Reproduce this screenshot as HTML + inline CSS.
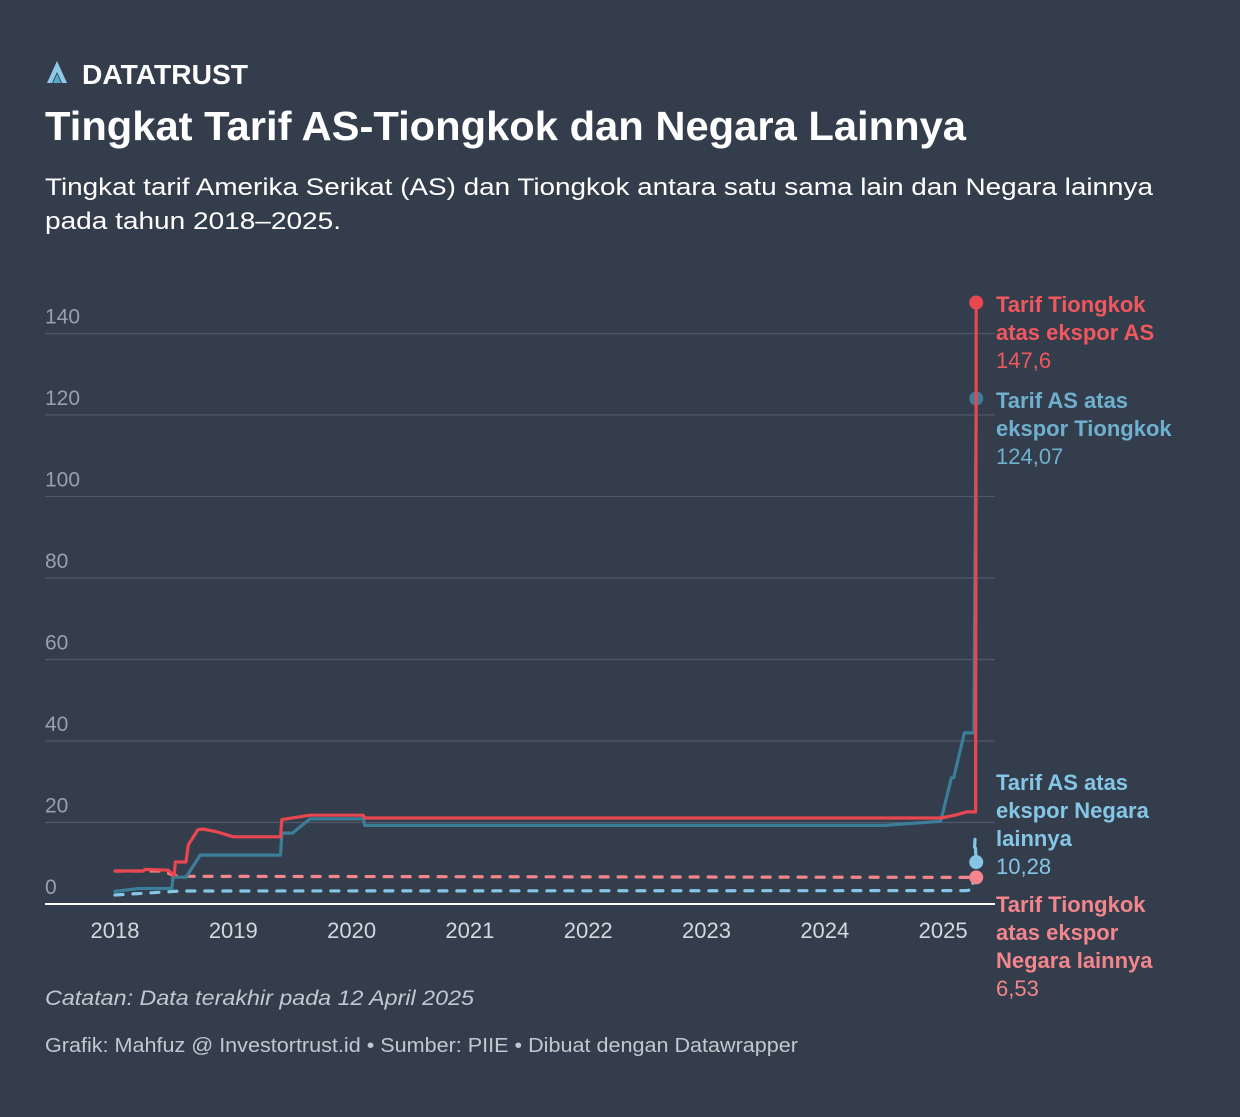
<!DOCTYPE html>
<html><head><meta charset="utf-8">
<style>
body{margin:0;background:#343d4c;width:1240px;height:1112px;overflow:hidden;font-family:"Liberation Sans",sans-serif;}
svg text{font-family:"Liberation Sans",sans-serif;}
</style></head>
<body>
<svg id="chart" width="1240" height="1112">
<g>
<path d="M47 83 L57 61 L67 83 L62 83 L57 72 L52 83 Z" fill="#8ec9e8"/>
<path d="M53 83 L57 74 L61 83 Z" fill="#5aa7cc"/>
<text x="82" y="84" font-size="28" font-weight="bold" fill="#fff" textLength="166" lengthAdjust="spacingAndGlyphs">DATATRUST</text>
</g>
<text x="45" y="140" font-size="41" font-weight="bold" fill="#fff" textLength="921" lengthAdjust="spacingAndGlyphs">Tingkat Tarif AS-Tiongkok dan Negara Lainnya</text>
<text font-size="24" fill="#fff"><tspan x="45" y="195" textLength="1108" lengthAdjust="spacingAndGlyphs">Tingkat tarif Amerika Serikat (AS) dan Tiongkok antara satu sama lain dan Negara lainnya</tspan><tspan x="45" y="229" textLength="296" lengthAdjust="spacingAndGlyphs">pada tahun 2018–2025.</tspan></text>
<g id="grid"></g><g id="series"></g><g id="labels"></g>
<text x="45" y="1005" font-size="21" font-style="italic" fill="#c3c7ce" textLength="429" lengthAdjust="spacingAndGlyphs">Catatan: Data terakhir pada 12 April 2025</text>
<text x="45" y="1052" font-size="20" fill="#c3c7ce" textLength="753" lengthAdjust="spacingAndGlyphs">Grafik: Mahfuz @ Investortrust.id • Sumber: PIIE • Dibuat dengan Datawrapper</text>
</svg>
<script>
const yTicks=[0,20,40,60,80,100,120,140];
const xTicks=[2018,2019,2020,2021,2022,2023,2024,2025];
const cnOnUsT=[2018.0,2018.24,2018.25,2018.45,2018.5,2018.51,2018.6,2018.62,2018.7,2018.74,2018.85,2019.0,2019.4,2019.41,2019.65,2020.1,2020.11,2024.98,2025.1,2025.2,2025.275,2025.28];
const cnOnUsV=[8.1,8.1,8.5,8.3,7.0,10.3,10.3,14.5,18.2,18.4,17.8,16.5,16.5,20.7,21.8,21.8,21.1,21.1,21.8,22.6,22.6,147.6];
const usOnCnT=[2018.0,2018.2,2018.48,2018.49,2018.6,2018.72,2019.4,2019.41,2019.5,2019.65,2020.1,2020.11,2024.5,2024.98,2025.07,2025.09,2025.18,2025.26,2025.28];
const usOnCnV=[3.1,3.8,3.8,6.6,6.6,12.0,12.0,17.4,17.4,20.9,20.9,19.3,19.3,20.3,31,31,42,42,124.07];
const cnOnOthT=[2018.0,2018.4,2018.5,2018.55,2025.28];
const cnOnOthV=[8.1,8.1,7.0,6.8,6.53];
const usOnOthT=[2018.0,2018.5,2018.55,2025.2,2025.25,2025.27,2025.28];
const usOnOthV=[2.2,3.1,3.2,3.3,3.6,16,10.28];
const X=t=>115+(t-2018)*118.3, Y=v=>904-v*4.075;
const NS="http://www.w3.org/2000/svg";
function mk(tag,attrs,parent){const e=document.createElementNS(NS,tag);for(const k in attrs)e.setAttribute(k,attrs[k]);parent.appendChild(e);return e;}
const grid=document.getElementById('grid');
yTicks.forEach(v=>{
 if(v>0){const l=mk('line',{x1:45,x2:995,y1:Y(v),y2:Y(v),stroke:'#4f5868','stroke-width':1.2},grid);
 
 }
 const t=mk('text',{x:45,y:Y(v)-10,'font-size':21,fill:'#9aa0aa'},grid);t.textContent=v;
 
 
});
const base=mk('line',{x1:45,x2:995,y1:904,y2:904,stroke:'#fff','stroke-width':2},grid);


xTicks.forEach(y=>{const t=mk('text',{x:X(y),y:938,'font-size':22,fill:'#d5d8dd','text-anchor':'middle'},grid);t.textContent=y;
 
 });
const S=document.getElementById('series');
function line(T,V,color,dash,name){
 const d=T.map((t,i)=>(i?'L':'M')+X(t).toFixed(1)+' '+Y(V[i]).toFixed(1)).join(' ');
 const p=mk('path',{d,fill:'none',stroke:color,'stroke-width':3.2,'stroke-linejoin':'round','stroke-linecap':'round'},S);
 if(dash)p.setAttribute('stroke-dasharray','8 10');
 
 
 const c=mk('circle',{cx:X(T[T.length-1]),cy:Y(V[V.length-1]),r:7,fill:color},S);
 
 
}
line(usOnOthT,usOnOthV,'#85c6e6',true,'line-us-on-others');
line(cnOnOthT,cnOnOthV,'#f2868c',true,'line-china-on-others');
line(usOnCnT,usOnCnV,'#3b7e98',false,'line-us-on-china');
line(cnOnUsT,cnOnUsV,'#e8474f',false,'line-china-on-us');
const L=document.getElementById('labels');
function lab(y,lines,val,color,name){
 const t=mk('text',{'font-size':22,fill:color},L);
 
 
 lines.forEach((s,i)=>{const ts=mk('tspan',{x:996,y:y+i*28,'font-weight':'bold'},t);ts.textContent=s;});
 const tv=mk('tspan',{x:996,y:y+lines.length*28},t);tv.textContent=val;
}
lab(312,['Tarif Tiongkok','atas ekspor AS'],'147,6','#f0575e','label-china-on-us');
lab(408,['Tarif AS atas','ekspor Tiongkok'],'124,07','#6fb0cf','label-us-on-china');
lab(790,['Tarif AS atas','ekspor Negara','lainnya'],'10,28','#85c6e6','label-us-on-others');
lab(912,['Tarif Tiongkok','atas ekspor','Negara lainnya'],'6,53','#f2868c','label-china-on-others');
</script>
</body></html>
